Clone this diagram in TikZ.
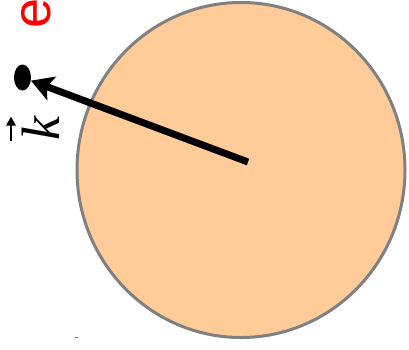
\documentclass[tikz,border=0pt]{standalone}
\usepackage{fontspec}
\setmainfont{Liberation Serif}
\newfontfamily\esans{Liberation Sans}
\usetikzlibrary{shapes.geometric,arrows.meta,calc}
\definecolor{peach}{HTML}{FFCC99}
\definecolor{rim}{HTML}{808080}
\tikzset{
  ballstyle/.style={ellipse,draw=rim,fill=peach,line width=3pt,inner sep=0pt,minimum width=328pt,minimum height=335pt},
  dotstyle/.style={ellipse,fill=black,inner sep=0pt,minimum width=17pt,minimum height=26pt},
  vecarrow/.style={line width=7pt,-{Stealth[length=22pt,width=25pt,inset=5pt]}},
  overarrow/.style={line width=2.5pt,-{Triangle[length=9pt,width=9pt]}},
}
\begin{document}
\begin{tikzpicture}[x=1pt,y=-1pt]
\useasboundingbox (0,0) rectangle (409,349);
\node[ballstyle] (ball) at (241,170) {};
\fill[rim] (75,336.5) rectangle (78,337.5);
\coordinate (c) at (248,162);
\node[dotstyle] (dot) at (22.5,77.5) {};
\draw[vecarrow] (c) -- (dot);
\node[rotate=90,inner sep=0pt] (k) at (40.5,128.5) {\fontsize{54}{60}\selectfont\itshape k};
\coordinate (ka) at ($(k)+(-29.5,12)$);
\coordinate (kb) at ($(k)+(-29.5,-12)$);
\draw[overarrow] (ka) -- (kb);
\node[rotate=90,inner sep=0pt,text=red] (e) at (36,13) {\fontsize{54}{60}\selectfont\esans e};
\end{tikzpicture}
\end{document}
